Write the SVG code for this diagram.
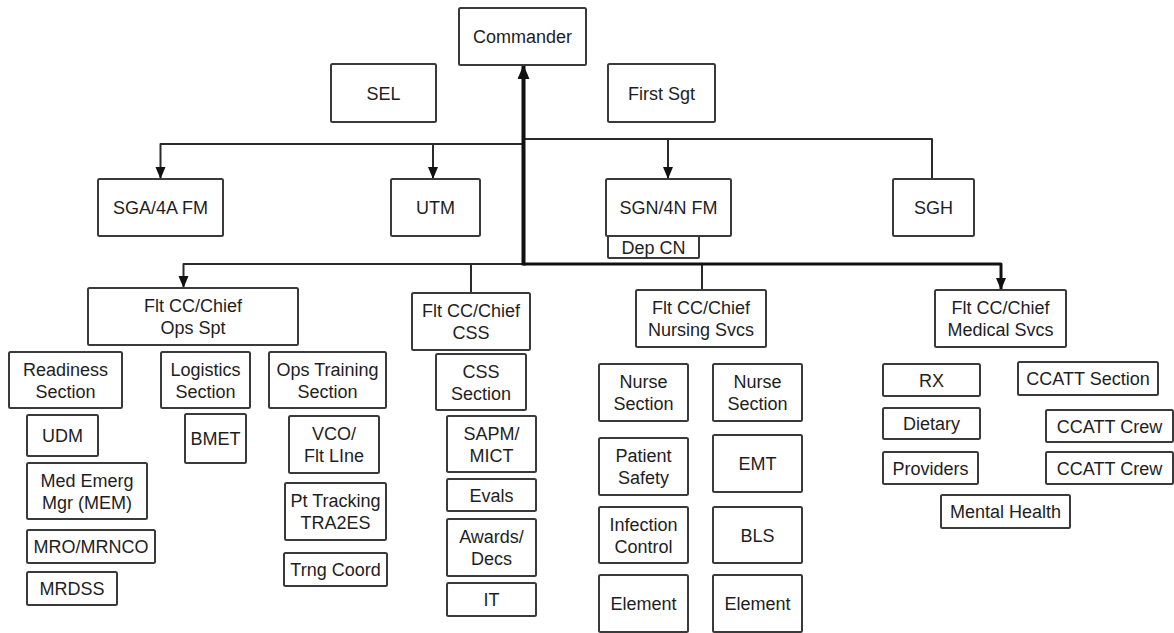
<svg xmlns="http://www.w3.org/2000/svg" width="1174" height="633" viewBox="0 0 1174 633">
<style>
  .box { fill: #ffffff; stroke: #3a3a3a; stroke-width: 2; }
  .t { font-family: "Liberation Sans", Arial, sans-serif; font-size: 18px; fill: #1e1e1e; text-anchor: middle; }
  .ln { fill: none; stroke: #2a2a2a; stroke-width: 2; stroke-linejoin: round; }
  .thick { fill: none; stroke: #111111; stroke-width: 4; stroke-linejoin: round; }
  .med { fill: none; stroke: #111111; stroke-width: 3; stroke-linejoin: round; }
</style>
<defs>
  <marker id="arr" markerUnits="userSpaceOnUse" markerWidth="12" markerHeight="12" refX="12" refY="5" orient="auto">
    <path d="M0,0 L12,5 L0,10 z" fill="#111111"/>
  </marker>
  <marker id="arrBig" markerUnits="userSpaceOnUse" markerWidth="14" markerHeight="14" refX="14" refY="6" orient="auto">
    <path d="M0,0 L14,6 L0,12 z" fill="#111111"/>
  </marker>
</defs>
<rect width="1174" height="633" fill="#ffffff"/>

<g id="connectors">
  <path class="ln" d="M523.5,144 H160.5 V179" marker-end="url(#arr)"/>
  <path class="ln" d="M433,144 V179" marker-end="url(#arr)"/>
  <path class="ln" d="M523.5,139 H932 V179"/>
  <path class="ln" d="M668,139 V179" marker-end="url(#arr)"/>
  <path class="ln" d="M523.5,264 H183.5 V288" marker-end="url(#arr)"/>
  <path class="ln" d="M471,264 V293"/>
  <path class="ln" d="M702,264 V290"/>
  <path class="med" d="M523.5,264 H1001 V290" marker-end="url(#arr)"/>
  <path class="thick" d="M523.5,265.5 V65" marker-end="url(#arrBig)"/>
</g>

<g id="commander"><rect class="box" x="459" y="8" width="127" height="57" rx="1.5"/><text class="t" x="522.5" y="43">Commander</text></g>
<g id="sel"><rect class="box" x="331" y="64" width="105" height="58" rx="1.5"/><text class="t" x="383.5" y="99.5">SEL</text></g>
<g id="first-sgt"><rect class="box" x="608" y="64" width="107" height="58" rx="1.5"/><text class="t" x="661.5" y="99.5">First Sgt</text></g>

<g id="sga"><rect class="box" x="98" y="179" width="125" height="57" rx="1.5"/><text class="t" x="160.5" y="214">SGA/4A FM</text></g>
<g id="utm"><rect class="box" x="391" y="179" width="89" height="57" rx="1.5"/><text class="t" x="435.5" y="214">UTM</text></g>
<g id="sgn"><rect class="box" x="606" y="179" width="125" height="57" rx="1.5"/><text class="t" x="668.5" y="214">SGN/4N FM</text></g>
<g id="dep-cn"><rect class="box" x="608" y="236" width="91" height="22" rx="1"/><text class="t" x="653.5" y="253.5">Dep CN</text></g>
<g id="sgh"><rect class="box" x="893" y="179" width="81" height="57" rx="1.5"/><text class="t" x="933.5" y="214">SGH</text></g>

<g id="ops-spt"><rect class="box" x="88" y="288" width="210" height="57" rx="1.5"/><text class="t" x="193" y="312">Flt CC/Chief</text><text class="t" x="193" y="334">Ops Spt</text></g>
<g id="css"><rect class="box" x="412" y="293" width="118" height="57" rx="1.5"/><text class="t" x="471" y="317">Flt CC/Chief</text><text class="t" x="471" y="339">CSS</text></g>
<g id="nursing"><rect class="box" x="636" y="290" width="130" height="57" rx="1.5"/><text class="t" x="701" y="314">Flt CC/Chief</text><text class="t" x="701" y="336">Nursing Svcs</text></g>
<g id="medical"><rect class="box" x="935" y="290" width="131" height="57" rx="1.5"/><text class="t" x="1000.5" y="314">Flt CC/Chief</text><text class="t" x="1000.5" y="336">Medical Svcs</text></g>

<g id="readiness"><rect class="box" x="9" y="352" width="113" height="56" rx="1.5"/><text class="t" x="65.5" y="375.5">Readiness</text><text class="t" x="65.5" y="397.5">Section</text></g>
<g id="logistics"><rect class="box" x="161" y="352" width="89" height="56" rx="1.5"/><text class="t" x="205.5" y="375.5">Logistics</text><text class="t" x="205.5" y="397.5">Section</text></g>
<g id="ops-training"><rect class="box" x="269" y="352" width="117" height="56" rx="1.5"/><text class="t" x="327.5" y="375.5">Ops Training</text><text class="t" x="327.5" y="397.5">Section</text></g>
<g id="udm"><rect class="box" x="27" y="415" width="71" height="41" rx="1.5"/><text class="t" x="62.5" y="442">UDM</text></g>
<g id="mem"><rect class="box" x="27" y="463" width="120" height="56" rx="1.5"/><text class="t" x="87" y="486.5">Med Emerg</text><text class="t" x="87" y="508.5">Mgr (MEM)</text></g>
<g id="mro"><rect class="box" x="27" y="530" width="128" height="33" rx="1.5"/><text class="t" x="91" y="553">MRO/MRNCO</text></g>
<g id="mrdss"><rect class="box" x="27" y="572" width="90" height="33" rx="1.5"/><text class="t" x="72" y="595">MRDSS</text></g>
<g id="bmet"><rect class="box" x="185" y="414" width="61" height="49" rx="1.5"/><text class="t" x="215.5" y="445">BMET</text></g>
<g id="vco"><rect class="box" x="289" y="416" width="90" height="57" rx="1.5"/><text class="t" x="334" y="440">VCO/</text><text class="t" x="334" y="462">Flt LIne</text></g>
<g id="pt-tracking"><rect class="box" x="285" y="483" width="101" height="57" rx="1.5"/><text class="t" x="335.5" y="507">Pt Tracking</text><text class="t" x="335.5" y="529">TRA2ES</text></g>
<g id="trng-coord"><rect class="box" x="284" y="553" width="103" height="33" rx="1.5"/><text class="t" x="335.5" y="576">Trng Coord</text></g>

<g id="css-section"><rect class="box" x="436" y="354" width="90" height="56" rx="1.5"/><text class="t" x="481" y="377.5">CSS</text><text class="t" x="481" y="399.5">Section</text></g>
<g id="sapm"><rect class="box" x="447" y="416" width="89" height="56" rx="1.5"/><text class="t" x="491.5" y="439.5">SAPM/</text><text class="t" x="491.5" y="461.5">MICT</text></g>
<g id="evals"><rect class="box" x="447" y="479" width="89" height="32" rx="1.5"/><text class="t" x="491.5" y="501.5">Evals</text></g>
<g id="awards"><rect class="box" x="447" y="519" width="89" height="57" rx="1.5"/><text class="t" x="491.5" y="543">Awards/</text><text class="t" x="491.5" y="565">Decs</text></g>
<g id="it"><rect class="box" x="447" y="583" width="89" height="33" rx="1.5"/><text class="t" x="491.5" y="606">IT</text></g>

<g id="nurse-section-1"><rect class="box" x="599" y="364" width="89" height="57" rx="1.5"/><text class="t" x="643.5" y="388">Nurse</text><text class="t" x="643.5" y="410">Section</text></g>
<g id="nurse-section-2"><rect class="box" x="713" y="364" width="89" height="57" rx="1.5"/><text class="t" x="757.5" y="388">Nurse</text><text class="t" x="757.5" y="410">Section</text></g>
<g id="patient-safety"><rect class="box" x="599" y="438" width="89" height="57" rx="1.5"/><text class="t" x="643.5" y="462">Patient</text><text class="t" x="643.5" y="484">Safety</text></g>
<g id="emt"><rect class="box" x="713" y="435" width="89" height="57" rx="1.5"/><text class="t" x="757.5" y="470">EMT</text></g>
<g id="infection-control"><rect class="box" x="599" y="507" width="89" height="56" rx="1.5"/><text class="t" x="643.5" y="530.5">Infection</text><text class="t" x="643.5" y="552.5">Control</text></g>
<g id="bls"><rect class="box" x="713" y="507" width="89" height="56" rx="1.5"/><text class="t" x="757.5" y="541.5">BLS</text></g>
<g id="element-1"><rect class="box" x="599" y="575" width="89" height="57" rx="1.5"/><text class="t" x="643.5" y="610">Element</text></g>
<g id="element-2"><rect class="box" x="713" y="575" width="89" height="57" rx="1.5"/><text class="t" x="757.5" y="610">Element</text></g>

<g id="rx"><rect class="box" x="883" y="364" width="97" height="32" rx="1.5"/><text class="t" x="931.5" y="386.5">RX</text></g>
<g id="ccatt-section"><rect class="box" x="1018" y="362" width="140" height="33" rx="1.5"/><text class="t" x="1088" y="385">CCATT Section</text></g>
<g id="dietary"><rect class="box" x="883" y="408" width="97" height="31" rx="1.5"/><text class="t" x="931.5" y="430">Dietary</text></g>
<g id="ccatt-crew-1"><rect class="box" x="1046" y="410" width="127" height="32" rx="1.5"/><text class="t" x="1109.5" y="432.5">CCATT Crew</text></g>
<g id="providers"><rect class="box" x="883" y="452" width="95" height="32" rx="1.5"/><text class="t" x="930.5" y="474.5">Providers</text></g>
<g id="ccatt-crew-2"><rect class="box" x="1046" y="452" width="127" height="32" rx="1.5"/><text class="t" x="1109.5" y="474.5">CCATT Crew</text></g>
<g id="mental-health"><rect class="box" x="941" y="495" width="129" height="33" rx="1.5"/><text class="t" x="1005.5" y="518">Mental Health</text></g>
</svg>
